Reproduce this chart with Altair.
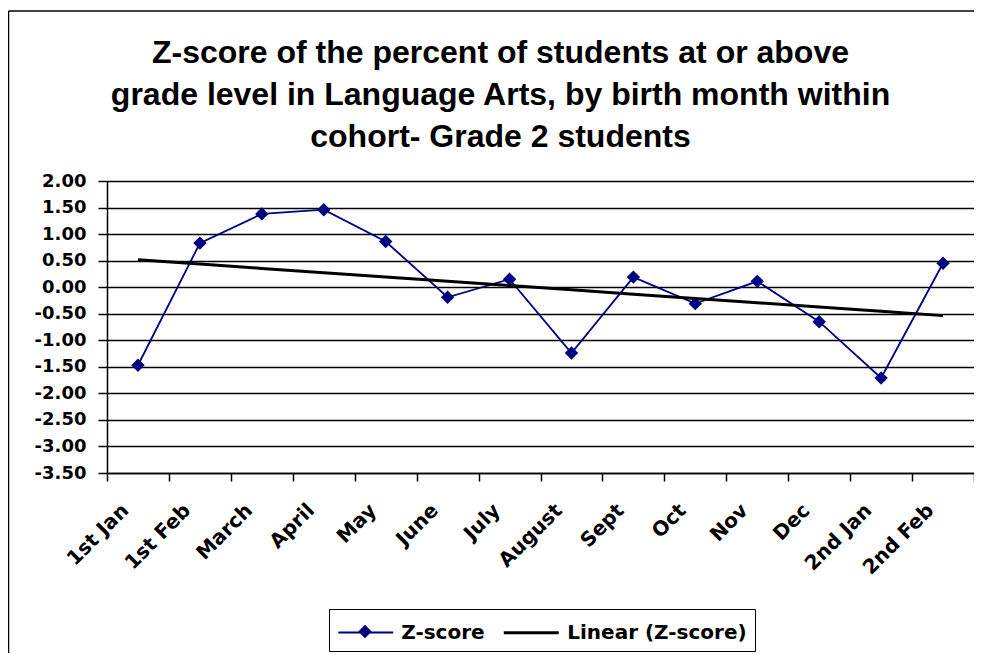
import altair as alt
import numpy as np
import pandas as pd

months = ["1st Jan", "1st Feb", "March", "April", "May", "June", "July",
          "August", "Sept", "Oct", "Nov", "Dec", "2nd Jan", "2nd Feb"]
zscores = [-1.47, 0.83, 1.38, 1.46, 0.86, -0.19, 0.15,
           -1.24, 0.19, -0.31, 0.11, -0.65, -1.71, 0.45]
series_names = ["Z-score", "Linear (Z-score)"]
series_colors = ["#000080", "#000000"]
series_widths = [1.8, 3]
y_ticks = [-3.5, -3.0, -2.5, -2.0, -1.5, -1.0, -0.5, 0.0, 0.5, 1.0, 1.5, 2.0]
title_lines = ["Z-score of the percent of students at or above",
               "grade level in Language Arts, by birth month within",
               "cohort- Grade 2 students"]

# Linear trendline (least squares over category index), as Excel does
idx = np.arange(1, len(months) + 1)
slope, intercept = np.polyfit(idx, zscores, 1)

df = pd.DataFrame({"month": months, "z": zscores,
                   "series": series_names[0], "marker": series_names[0]})
trend = pd.DataFrame({"month": months, "z": intercept + slope * idx,
                      "series": series_names[1]})
frame_df = pd.DataFrame({"k": [0]})

W, H = 867, 292
PAD_LEFT = 99
LABEL_FONT = "DejaVu Sans"

x_enc = alt.X("month:N", sort=months,
              scale=alt.Scale(type="band", paddingInner=0, paddingOuter=0),
              bandPosition=0.5,
              axis=alt.Axis(title=None, labelAngle=315, labelAlign="right",
                            labelBaseline="middle", labelPadding=26,
                            labelOffset=-13, tickBand="extent", tickSize=8,
                            labelFont=LABEL_FONT, labelFontSize=20,
                            labelFontWeight="bold", labelColor="black",
                            tickColor="black", tickWidth=1.5,
                            domainColor="black", domainWidth=1.5, grid=False))
y_enc = alt.Y("z:Q",
              scale=alt.Scale(domain=[-3.5, 2], nice=False, zero=False),
              axis=alt.Axis(title=None, values=y_ticks,
                            labelExpr="replace(format(datum.value, '.2f'), '\u2212', '-')",
                            labelFont=LABEL_FONT, labelFontSize=18,
                            labelFontWeight="bold", labelColor="black",
                            labelPadding=12, tickSize=9, tickColor="black",
                            tickWidth=1.5, domainColor="black", domainWidth=1.5,
                            grid=True, gridColor="black", gridWidth=1.3))

LX, LY = 222, 428
SYM = 27.5  # layout size of a legend symbol
main_legend = alt.Legend(title=None, orient="none", legendX=LX, legendY=LY,
                         direction="horizontal", padding=8,
                         symbolType="M-2,0H2", symbolSize=SYM * SYM,
                         symbolOffset=SYM / 2, labelOffset=SYM - 7,
                         labelFont=LABEL_FONT, labelFontSize=20,
                         labelFontWeight="bold", labelColor="black",
                         columnPadding=12, labelLimit=400,
                         strokeColor="black")

color_enc = alt.Color("series:N",
                      scale=alt.Scale(domain=series_names, range=series_colors),
                      legend=main_legend)
width_enc = alt.StrokeWidth("series:N",
                            scale=alt.Scale(domain=series_names, range=series_widths),
                            legend=main_legend)

# chart-area frame: top and left edges (the right/bottom lie outside the picture)
frame_top = alt.Chart(frame_df).mark_rule(color="black", strokeWidth=1.5).encode(
    x=alt.value(-PAD_LEFT + 0.5), x2=alt.value(W + 200), y=alt.value(-170))
frame_left = alt.Chart(frame_df).mark_rule(color="black", strokeWidth=1.5).encode(
    x=alt.value(-PAD_LEFT + 0.5), y=alt.value(-170), y2=alt.value(H + 400))

zline = alt.Chart(df).mark_line().encode(x=x_enc, y=y_enc,
                                         color=color_enc, strokeWidth=width_enc)

points = alt.Chart(df).mark_point(filled=True, color="#000080", size=180,
                                  opacity=1).encode(
    x=x_enc, y=y_enc,
    shape=alt.Shape("marker:N",
                    scale=alt.Scale(domain=[series_names[0]], range=["diamond"]),
                    legend=alt.Legend(title=None, orient="none",
                                      legendX=LX + 20.5, legendY=LY + 7,
                                      padding=8, symbolSize=180,
                                      symbolFillColor="#000080",
                                      symbolStrokeColor="#000080",
                                      labelExpr="''", labelFontSize=10,
                                      zindex=2)))

tline = alt.Chart(trend).mark_line().encode(x=x_enc, y=y_enc,
                                            color=color_enc, strokeWidth=width_enc)

chart = alt.layer(frame_top, frame_left, zline, points, tline).properties(
    width=W, height=H,
    title=alt.TitleParams(text=title_lines, font="Liberation Sans",
                          fontSize=32, fontWeight="bold", color="black",
                          anchor="middle", dx=-40, lineHeight=42,
                          baseline="top", offset=-144),
    autosize=alt.AutoSizeParams(type="none"),
    padding={"left": PAD_LEFT, "top": 173, "right": 0, "bottom": 180},
).configure_view(stroke=None).configure(background="white")

chart.save("out.html", embed_options={"renderer": "svg", "actions": False})
